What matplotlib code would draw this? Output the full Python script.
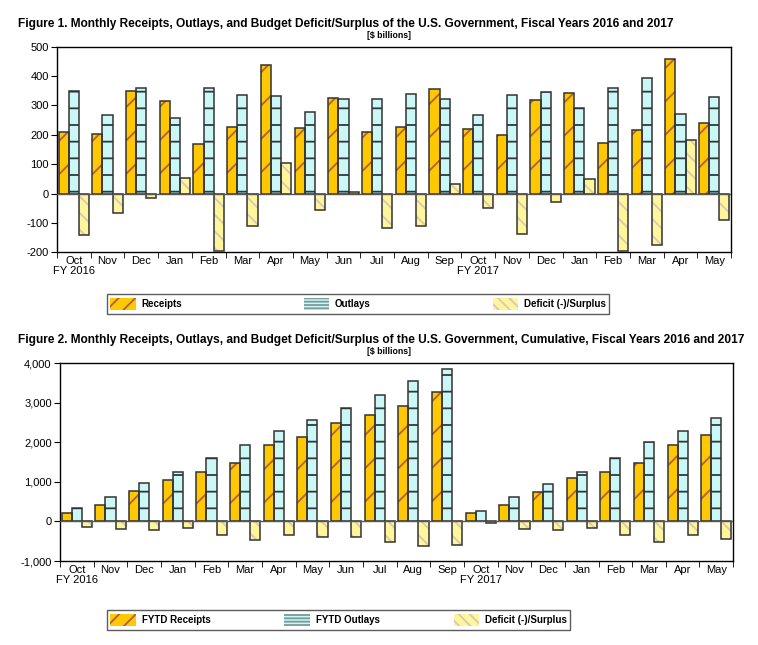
import numpy as np
import matplotlib.pyplot as plt
from matplotlib.patches import Patch

plt.rcParams['font.family'] = ['Liberation Sans', 'DejaVu Sans']
plt.rcParams['hatch.linewidth'] = 1.3

# etiquetas de meses (FY 2016: Oct-Sep, FY 2017: Oct-May)
meses = ['Oct\nFY 2016', 'Nov', 'Dec', 'Jan', 'Feb', 'Mar', 'Apr', 'May', 'Jun',
         'Jul', 'Aug', 'Sep', 'Oct\nFY 2017', 'Nov', 'Dec', 'Jan', 'Feb', 'Mar',
         'Apr', 'May']

# Figura 1: mensual [$ billions]
receipts = [209, 202, 349, 315, 168, 226, 436, 223, 327, 209, 228, 356,
            219, 199, 319, 341, 172, 216, 457, 240]
outlays = [350, 267, 361, 257, 361, 335, 331, 277, 322, 322, 338, 322,
           267, 334, 345, 291, 361, 393, 270, 328]
deficit = [-140, -65, -15, 53, -194, -110, 105, -56, 6, -117, -110, 33,
           -49, -137, -28, 50, -194, -176, 182, -89]

# Figura 2: acumulado [$ billions]
cum_receipts = [211, 405, 759, 1055, 1240, 1468, 1924, 2127, 2481, 2684, 2911, 3266,
                211, 414, 734, 1089, 1241, 1468, 1924, 2177]
cum_outlays = [329, 608, 962, 1240, 1595, 1924, 2278, 2557, 2861, 3181, 3536, 3840,
               253, 616, 937, 1241, 1595, 2000, 2278, 2608]
cum_deficit = [-152, -203, -228, -177, -354, -481, -354, -405, -405, -523, -633, -608,
               -42, -203, -228, -177, -354, -532, -354, -456]

yticks1 = [-200, -100, 0, 100, 200, 300, 400, 500]
yticks2 = [-1000, 0, 1000, 2000, 3000, 4000]
ylabels2 = ['-1,000', '0', '1,000', '2,000', '3,000', '4,000']

c_rec, h_rec = '#FFC800', '#B0603A'
c_out, h_out = '#CCF7F7', '#2E3A3A'
c_def, h_def = '#FFF59A', '#D8C8B8'
borde = '#333333'


def Barras(ax, x, vals, dx, fill, hcol, hatch):
    ax.bar(x + dx, vals, 0.3, color=fill, edgecolor=hcol, hatch=hatch, linewidth=0, zorder=2)
    ax.bar(x + dx, vals, 0.3, color='none', edgecolor=borde, linewidth=1.1, zorder=3)


def Panel(ax, rec, out, dfc, yt, ylab):
    x = np.arange(len(meses))
    Barras(ax, x, rec, -0.3, c_rec, h_rec, '/')
    Barras(ax, x, out, 0.0, c_out, h_out, '-')
    Barras(ax, x, dfc, 0.3, c_def, h_def, '\\\\')
    ax.axhline(0, color='#555555', lw=1, zorder=4)
    ax.set_xlim(-0.5, len(meses) - 0.5)
    ax.set_ylim(yt[0], yt[-1])
    ax.set_yticks(yt)
    ax.set_yticklabels(ylab, fontsize=8)
    ax.set_xticks(x)
    ax.set_xticklabels(meses, fontsize=8, linespacing=1.0)
    ax.set_xticks(np.arange(len(meses) + 1) - 0.5, minor=True)
    ax.tick_params(axis='x', which='major', length=0, pad=3)
    ax.tick_params(axis='x', which='minor', length=4, direction='out')
    ax.tick_params(axis='y', length=4, direction='out', pad=2)
    for s in ax.spines.values():
        s.set_linewidth(1.0)


fig = plt.figure(figsize=(7.58, 6.45), dpi=100)

ax1 = fig.add_axes([0.0752, 0.6088, 0.8892, 0.3188])
Panel(ax1, receipts, outlays, deficit, yticks1, [str(v) for v in yticks1])

ax2 = fig.add_axes([0.0792, 0.1302, 0.888, 0.307])
Panel(ax2, cum_receipts, cum_outlays, cum_deficit, yticks2, ylabels2)

fig.text(18 / 758, 1 - 24 / 645,
         'Figure 1. Monthly Receipts, Outlays, and Budget Deficit/Surplus of the U.S. Government, Fiscal Years 2016 and 2017',
         fontsize=8.6, fontweight='bold', ha='left', va='center')
fig.text(389 / 758, 1 - 36 / 645, '[$ billions]', fontsize=6.3, fontweight='bold', ha='center', va='center')
fig.text(18 / 758, 1 - 340 / 645,
         'Figure 2. Monthly Receipts, Outlays, and Budget Deficit/Surplus of the U.S. Government, Cumulative, Fiscal Years 2016 and 2017',
         fontsize=8.6, fontweight='bold', ha='left', va='center')
fig.text(389 / 758, 1 - 352 / 645, '[$ billions]', fontsize=6.3, fontweight='bold', ha='center', va='center')


def Leyenda(labels, x0, y0, x1, y1):
    handles = [Patch(facecolor=c_rec, edgecolor=h_rec, hatch='//', linewidth=0),
               Patch(facecolor=c_out, edgecolor='#7A9A9A', hatch='-----', linewidth=0),
               Patch(facecolor=c_def, edgecolor=h_def, hatch='\\\\\\', linewidth=0)]
    bb = (x0 / 758, 1 - y1 / 645, (x1 - x0) / 758, (y1 - y0) / 645)
    leg = fig.legend(handles, labels, ncol=3, loc='center left', bbox_to_anchor=bb,
                     mode='expand', frameon=True, fancybox=False, handlelength=2.6,
                     handleheight=1.6, handletextpad=0.6, borderaxespad=0,
                     borderpad=0.35, prop={'size': 7, 'weight': 'bold'})
    leg.get_frame().set_edgecolor('#333333')
    leg.get_frame().set_linewidth(1.0)


Leyenda(['Receipts', 'Outlays', 'Deficit (-)/Surplus'], 107, 289, 609, 319)
Leyenda(['FYTD Receipts', 'FYTD Outlays', 'Deficit (-)/Surplus'], 107, 606, 570, 634)

fig.savefig('out.png', dpi=100)
